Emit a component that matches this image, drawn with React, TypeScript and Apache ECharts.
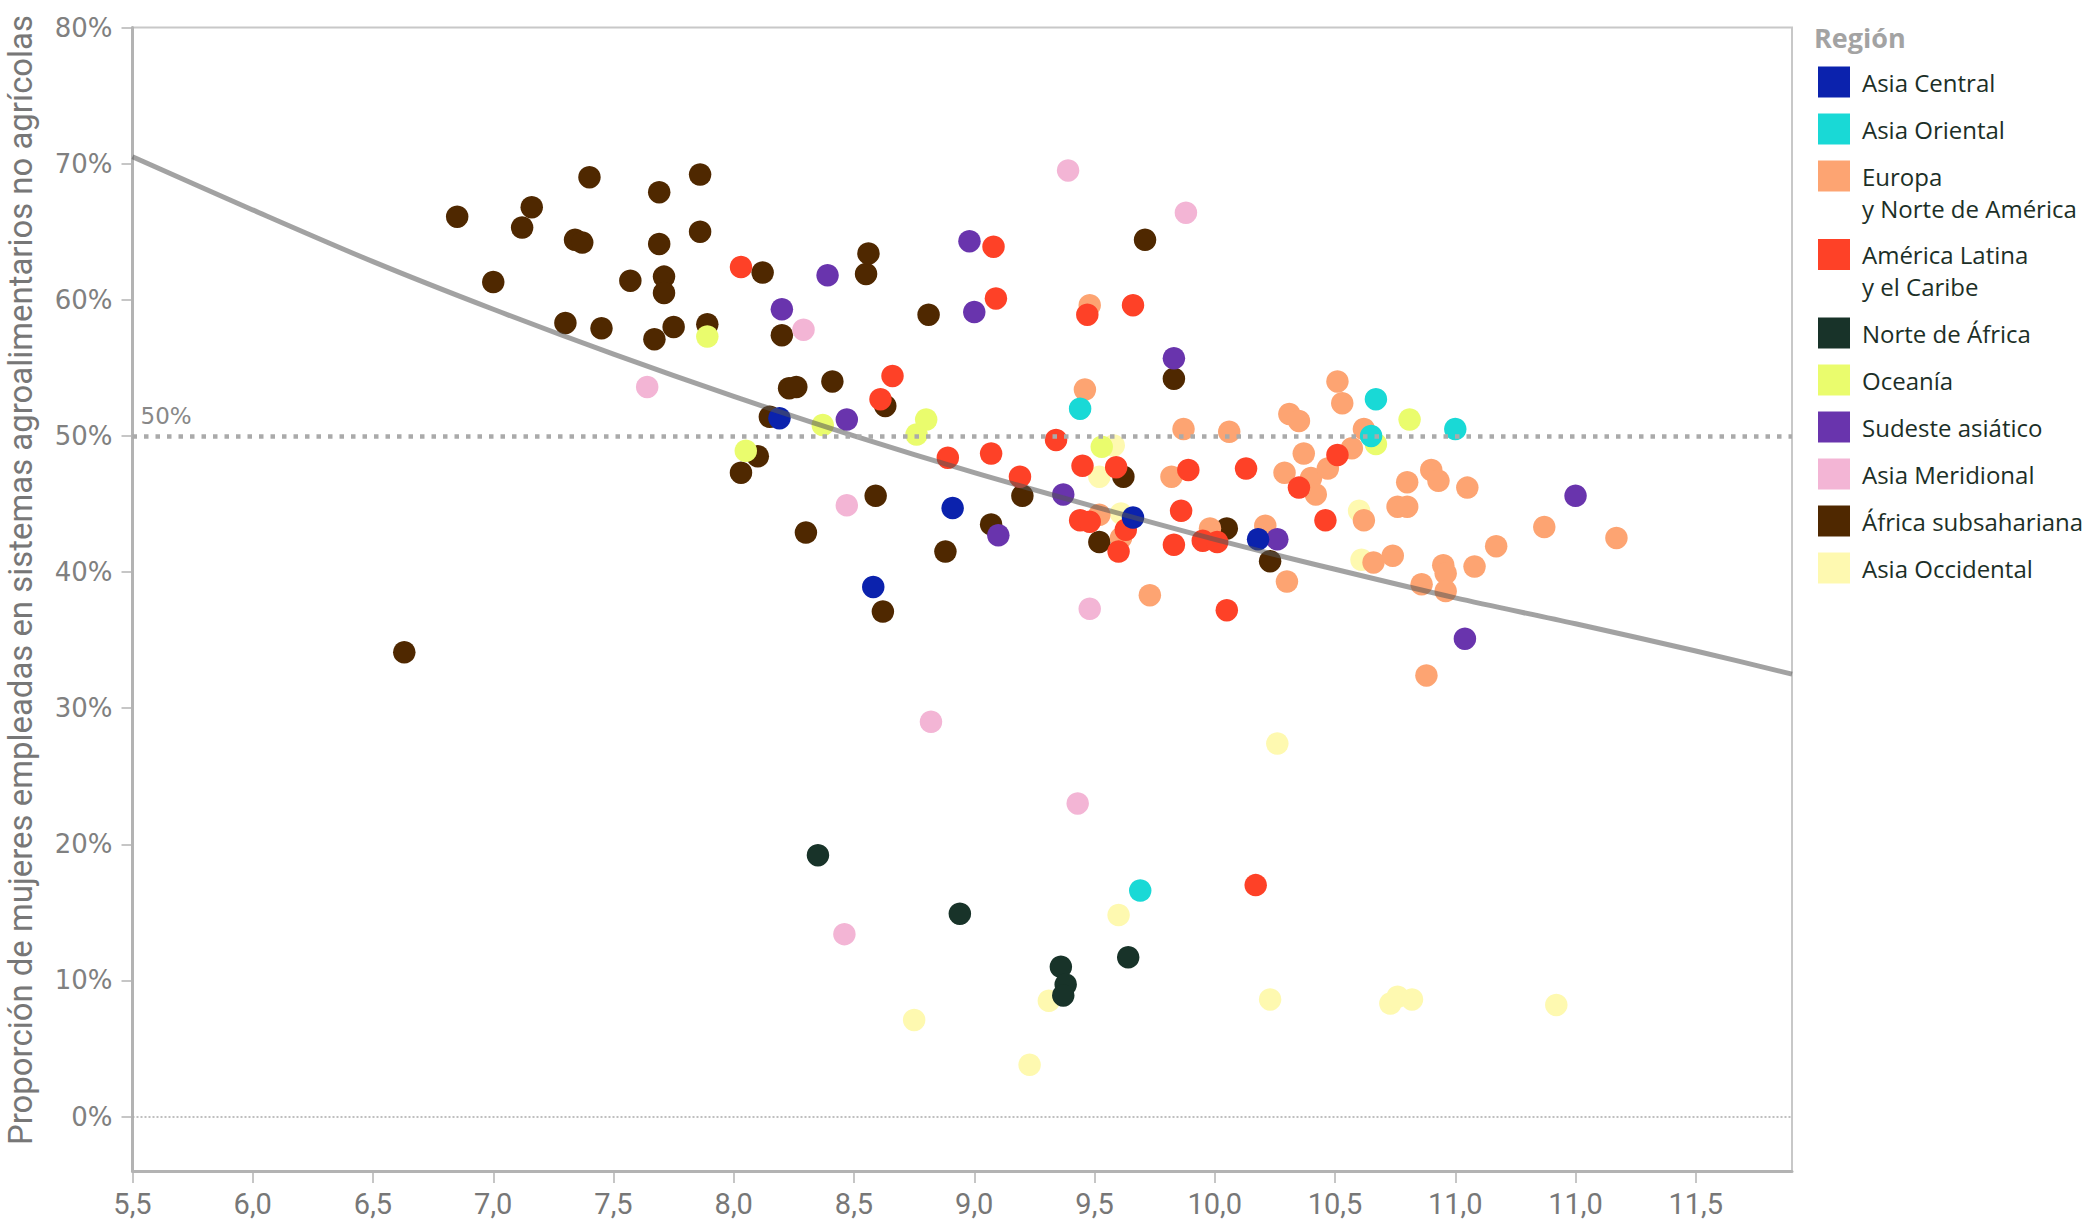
import React, { useEffect, useRef } from "react";
import * as echarts from "echarts";

// ---------- DATA ----------
const xTickLabels = ["5,5", "6,0", "6,5", "7,0", "7,5", "8,0", "8,5", "9,0", "9,5", "10,0", "10,5", "11,0", "11,0", "11,5"];

const regionNames = [
  "Asia Central",
  "Asia Oriental",
  "Europa\ny Norte de América",
  "América Latina\ny el Caribe",
  "Norte de África",
  "Oceanía",
  "Sudeste asiático",
  "Asia Meridional",
  "África subsahariana",
  "Asia Occidental",
];
const regionColors = ["#0b22ad", "#19d9d6", "#fda472", "#fe4127", "#183329", "#eafc6d", "#6934ad", "#f3b5d5", "#4f2800", "#fef9b0"];

const asiaCentral = [[8.19, 51.3], [8.91, 44.7], [8.58, 38.9], [9.66, 44.0], [10.18, 42.4]];
const asiaOriental = [[9.44, 52.0], [10.67, 52.7], [10.65, 50.0], [11.0, 50.5], [9.69, 16.6]];
const europa = [
  [9.48, 59.6], [9.46, 53.4], [9.52, 44.2], [9.61, 42.5], [9.73, 38.3], [9.82, 47.0], [9.87, 50.5], [9.98, 43.2],
  [10.06, 50.3], [10.21, 43.4], [10.3, 39.3], [10.29, 47.3], [10.31, 51.6], [10.35, 51.1], [10.37, 48.7], [10.4, 46.9],
  [10.42, 45.7], [10.47, 47.6], [10.51, 54.0], [10.53, 52.4], [10.57, 49.1], [10.62, 50.5], [10.62, 43.8], [10.66, 40.7],
  [10.74, 41.2], [10.76, 44.8], [10.8, 44.8], [10.8, 46.6], [10.9, 47.5], [10.93, 46.7], [10.86, 39.1], [10.95, 40.5],
  [10.96, 39.9], [10.96, 38.6], [10.88, 32.4], [11.05, 46.2], [11.08, 40.4], [11.17, 41.9], [11.37, 43.3], [11.67, 42.5],
];
const americaLatina = [
  [8.03, 62.4], [8.61, 52.7], [8.66, 54.4], [8.89, 48.4], [9.07, 48.7], [9.08, 63.9], [9.09, 60.1], [9.19, 47.0],
  [9.34, 49.7], [9.45, 47.8], [9.44, 43.8], [9.48, 43.7], [9.47, 58.9], [9.66, 59.6], [9.59, 47.7], [9.63, 43.1],
  [9.6, 41.5], [9.83, 42.0], [9.89, 47.5], [9.86, 44.5], [9.95, 42.3], [10.01, 42.2], [10.05, 37.2], [10.13, 47.6],
  [10.17, 17.0], [10.35, 46.2], [10.46, 43.8], [10.51, 48.6],
];
const norteAfrica = [[8.35, 19.2], [8.94, 14.9], [9.36, 11.0], [9.38, 9.7], [9.37, 8.9], [9.64, 11.7]];
const oceania = [[7.89, 57.3], [8.05, 48.9], [8.37, 50.8], [8.76, 50.1], [8.8, 51.2], [9.53, 49.2], [10.67, 49.4], [10.81, 51.2]];
const sudeste = [
  [8.2, 59.3], [8.39, 61.8], [8.47, 51.2], [8.98, 64.3], [9.0, 59.1], [9.1, 42.7], [9.37, 45.7], [9.83, 55.7],
  [10.26, 42.4], [11.04, 35.1], [11.5, 45.6],
];
const asiaMeridional = [[7.64, 53.6], [8.29, 57.8], [8.47, 44.9], [8.82, 29.0], [8.46, 13.4], [9.39, 69.5], [9.88, 66.4], [9.48, 37.3], [9.43, 23.0]];
const africaSub = [
  [6.63, 34.1], [6.85, 66.1], [7.0, 61.3], [7.12, 65.3], [7.16, 66.8], [7.3, 58.3], [7.34, 64.4], [7.37, 64.2],
  [7.4, 69.0], [7.45, 57.9], [7.57, 61.4], [7.67, 57.1], [7.69, 67.9], [7.69, 64.1], [7.71, 61.7], [7.71, 60.5],
  [7.75, 58.0], [7.86, 65.0], [7.86, 69.2], [7.89, 58.2], [8.03, 47.3], [8.1, 48.5], [8.12, 62.0], [8.15, 51.4],
  [8.2, 57.4], [8.23, 53.5], [8.26, 53.6], [8.3, 42.9], [8.41, 54.0], [8.55, 61.9], [8.56, 63.4], [8.59, 45.6],
  [8.63, 52.2], [8.62, 37.1], [8.81, 58.9], [8.88, 41.5], [9.07, 43.5], [9.2, 45.6], [9.52, 42.2], [9.62, 47.0],
  [9.71, 64.4], [9.83, 54.2], [10.05, 43.2], [10.23, 40.8],
];
const asiaOccidental = [
  [9.58, 49.3], [9.52, 47.0], [9.61, 44.3], [10.6, 44.5], [10.61, 40.9], [10.26, 27.4], [9.6, 14.8], [9.31, 8.5],
  [10.23, 8.6], [8.75, 7.1], [9.23, 3.8], [10.73, 8.3], [10.76, 8.8], [10.82, 8.6], [11.42, 8.2],
];

const regionData = [asiaCentral, asiaOriental, europa, americaLatina, norteAfrica, oceania, sudeste, asiaMeridional, africaSub, asiaOccidental];
// drawing order (bottom to top), indices into region arrays
const drawOrder = [8, 9, 2, 3, 4, 5, 7, 6, 0, 1];

const trendLine = [
  [5.5, 70.5], [6.0, 66.6], [6.5, 62.8], [7.0, 59.3], [7.5, 56.0], [8.0, 52.9], [8.5, 50.0], [9.0, 47.3],
  [9.5, 44.8], [10.0, 42.4], [10.5, 40.2], [11.0, 38.1], [11.5, 36.2], [12.0, 34.2], [12.4, 32.5],
];
const referenceLevels = [50, 0];

const yTitle = "Proporción de mujeres empleadas en sistemas agroalimentarios no agrícolas";

// ---------- LAYOUT ----------
const GRID_LEFT = 132.5;
const GRID_RIGHT = 296;
const GRID_TOP = 27.5;
const GRID_BOTTOM = 51;
const ZERO_BOTTOM = 105.5;
const X_MIN = 5.5;
const X_MAX = 12.4;
const AXIS_GRAY = "#b3b3b3";
const TITLE_FONT = 34;
const TITLE_LENGTH = 1130;

function measure(text: string, font: string) {
  try {
    const ctx = document.createElement("canvas").getContext("2d");
    if (!ctx) return 0;
    ctx.font = font;
    return ctx.measureText(text).width;
  } catch (e) {
    return 0;
  }
}

function buildLegend() {
  const els: any[] = [];
  els.push({
    type: "text",
    x: 1814,
    y: 37,
    style: { text: "Región", fontSize: 27, fontWeight: "bold", fontFamily: "Open Sans", fill: "#a3a3a3", verticalAlign: "middle", align: "left" },
  });
  let cy = 82;
  regionNames.forEach((name, i) => {
    const lines = name.split("\n").length;
    els.push({
      type: "rect",
      shape: { x: 1818, y: cy - 15.5, width: 32, height: 31 },
      style: { fill: regionColors[i] },
    });
    els.push({
      type: "text",
      x: 1862,
      y: cy - 16,
      style: {
        text: name,
        fontSize: 24,
        lineHeight: 32,
        fontFamily: "Open Sans",
        fill: "#1c2f27",
        align: "left",
        verticalAlign: "top",
      },
    });
    cy += 47 + 31.5 * (lines - 1);
  });
  return els;
}

export default function App() {
  const ref = useRef<HTMLDivElement>(null);
  useEffect(() => {
    if (!ref.current) return;
    const chart = echarts.init(ref.current, null, { renderer: "svg" });

    const titleWidth = measure(yTitle, `${TITLE_FONT}px Roboto`);
    const titleScale = titleWidth > 0 ? Math.min(1, TITLE_LENGTH / titleWidth) : 0.85;

    const scatterSeries = drawOrder.map((ri) => ({
      type: "scatter",
      name: regionNames[ri].replace("\n", " "),
      xAxisIndex: 0,
      yAxisIndex: 0,
      data: regionData[ri],
      symbol: "circle",
      symbolSize: 22.5,
      itemStyle: { color: regionColors[ri], opacity: 1 },
      z: 2,
      silent: true,
    }));

    const option: any = {
      animation: false,
      backgroundColor: "#ffffff",
      grid: [
        { left: GRID_LEFT, right: GRID_RIGHT, top: GRID_TOP, bottom: GRID_BOTTOM, show: true, borderColor: "#c8c8c8", borderWidth: 2, backgroundColor: "transparent" },
        { left: GRID_LEFT, right: GRID_RIGHT, top: GRID_TOP, bottom: ZERO_BOTTOM, show: false },
      ],
      xAxis: [
        {
          type: "value",
          gridIndex: 0,
          min: X_MIN,
          max: X_MAX,
          interval: 0.5,
          axisLine: { show: true, onZero: false, lineStyle: { color: AXIS_GRAY, width: 3 } },
          axisTick: { show: true, length: 12, lineStyle: { color: AXIS_GRAY, width: 1.5 } },
          axisLabel: {
            showMaxLabel: false,
            margin: 18,
            fontFamily: "Roboto",
            fontSize: 29,
            color: "#777777",
            formatter: (v: number) => {
              const idx = Math.round((v - X_MIN) / 0.5);
              if (Math.abs(v - (X_MIN + idx * 0.5)) > 1e-6) return "";
              return xTickLabels[idx] ?? "";
            },
          },
          splitLine: { show: false },
        },
        { type: "value", gridIndex: 1, min: X_MIN, max: X_MAX, show: false },
      ],
      yAxis: [
        {
          type: "value",
          gridIndex: 0,
          min: -4,
          max: 80,
          axisLine: { show: true, onZero: false, lineStyle: { color: AXIS_GRAY, width: 3 } },
          axisTick: { show: false },
          axisLabel: { show: false },
          splitLine: { show: false },
        },
        {
          type: "value",
          gridIndex: 1,
          min: 0,
          max: 80,
          interval: 10,
          axisLine: { show: false, onZero: false },
          axisTick: { show: true, length: 11, lineStyle: { color: AXIS_GRAY, width: 1.5 } },
          axisLabel: { margin: 20, fontFamily: "DejaVu Sans", fontSize: 26, color: "#808080", formatter: "{value}%" },
          splitLine: { show: false },
        },
      ],
      series: [
        {
          type: "line",
          xAxisIndex: 0,
          yAxisIndex: 0,
          data: [],
          z: 1,
          silent: true,
          markLine: {
            silent: true,
            symbol: ["none", "none"],
            animation: false,
            data: [
              {
                yAxis: referenceLevels[0],
                lineStyle: { type: [4.5, 7], width: 4.5, color: "#aaaaaa", cap: "butt" },
                label: { show: true, position: "insideStartTop", formatter: "50%", color: "#888888", fontSize: 23, fontFamily: "DejaVu Sans", distance: [8, 8] },
              },
              {
                yAxis: referenceLevels[1],
                lineStyle: { type: [2, 2], width: 1.5, color: "#aaaaaa" },
                label: { show: false },
              },
            ],
          },
        },
        ...scatterSeries,
        {
          type: "line",
          name: "tendencia",
          xAxisIndex: 0,
          yAxisIndex: 0,
          data: trendLine,
          smooth: 0.3,
          showSymbol: false,
          symbol: "none",
          lineStyle: { color: "rgba(85,85,85,0.55)", width: 5 },
          z: 3,
          silent: true,
        },
      ],
      graphic: [
        {
          type: "text",
          x: 20,
          y: 580,
          rotation: Math.PI / 2,
          scaleX: titleScale,
          style: { text: yTitle, fontSize: TITLE_FONT, fontFamily: "Roboto", fill: "#777777", align: "center", verticalAlign: "middle" },
        },
        ...buildLegend(),
      ],
    };
    chart.setOption(option);
    return () => chart.dispose();
  }, []);

  return <div ref={ref} style={{ position: "absolute", left: 0, top: 0, width: 2088, height: 1222 }} />;
}
